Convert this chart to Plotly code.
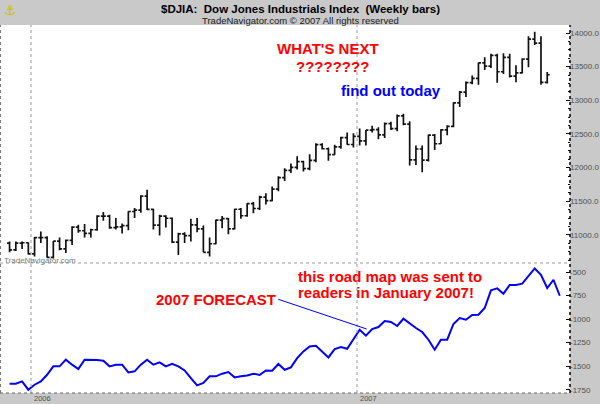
import pandas as pd
import plotly.graph_objects as go

# ---------------- data ----------------
bar_start = "2005-12-08"          # first weekly bar
n_line_points = 89                # forecast line length (weekly)

opens = [10877, 10778, 10876, 10883,
         10718, 10959, 10960, 10667, 10907, 10793, 10919, 11116, 11061, 11021,
         11076, 11279, 11280, 11109, 11120, 11137, 11347, 11367, 11577, 11380,
         11144, 11278, 11247, 10891, 11015, 10989, 11150, 11090, 10739, 10868,
         11219, 11240, 11088, 11381, 11284, 11464, 11392, 11560, 11508, 11679,
         11850, 11960, 12002, 12090, 11986, 12108, 12342, 12280, 12194, 12307,
         12445, 12343,
         12463, 12398, 12556, 12565, 12487, 12653, 12580, 12768, 12647, 12114,
         12276, 12110, 12481, 12354, 12560, 12612, 12961, 13120, 13264, 13327,
         13556, 13507, 13668, 13424, 13639, 13360, 13408, 13611, 13908, 13851,
         13265]
highs = [10900, 10900, 10900, 10890,
         10970, 11050, 10980, 10910, 10960, 10930, 11130, 11150, 11160, 11090,
         11290, 11340, 11300, 11250, 11170, 11350, 11400, 11590, 11670, 11390,
         11300, 11290, 11260, 11030, 11040, 11240, 11250, 11140, 10960, 11230,
         11280, 11250, 11390, 11400, 11470, 11490, 11580, 11620, 11720, 11870,
         11990, 12060, 12170, 12100, 12200, 12360, 12360, 12300, 12340, 12460,
         12520, 12510,
         12580, 12560, 12620, 12600, 12670, 12680, 12790, 12800, 12690, 12330,
         12330, 12490, 12500, 12570, 12630, 12970, 13140, 13280, 13370, 13560,
         13640, 13690, 13690, 13700, 13690, 13520, 13620, 13950, 14020, 13950,
         13420]
lows = [10740, 10760, 10790, 10710,
        10680, 10880, 10660, 10650, 10770, 10730, 10850, 11030, 10960, 10960,
        11060, 11210, 11090, 11080, 11020, 11070, 11250, 11330, 11370, 11080,
        10990, 11110, 10880, 10700, 10880, 10900, 11040, 10740, 10680, 10860,
        11100, 11010, 11080, 11240, 11270, 11320, 11370, 11450, 11500, 11650,
        11800, 11920, 11970, 11940, 11960, 12080, 12270, 12100, 12190, 12280,
        12340, 12300,
        12330, 12330, 12520, 12420, 12440, 12560, 12540, 12630, 12030, 12040,
        11930, 12090, 12260, 12350, 12480, 12600, 12900, 13050, 13240, 13230,
        13450, 13480, 13260, 13390, 13340, 13270, 13400, 13490, 13820, 13230,
        13250]
closes = [10778, 10876, 10883, 10718,
          10959, 10960, 10667, 10907, 10793, 10919, 11116, 11061, 11021, 11076,
          11279, 11280, 11109, 11120, 11137, 11347, 11367, 11577, 11380, 11144,
          11278, 11247, 10891, 11015, 10989, 11150, 11090, 10739, 10868, 11219,
          11240, 11088, 11381, 11284, 11464, 11392, 11560, 11508, 11679, 11850,
          11960, 12002, 12090, 11986, 12108, 12342, 12280, 12194, 12307, 12445,
          12343, 12463,
          12398, 12556, 12565, 12487, 12653, 12580, 12768, 12647, 12114, 12276,
          12110, 12481, 12354, 12560, 12612, 12961, 13120, 13264, 13327, 13556,
          13507, 13668, 13424, 13639, 13360, 13408, 13611, 13908, 13851, 13265,
          13380]

forecast = [-1686, -1686, -1662, -1750, -1697, -1662, -1591, -1502, -1502, -1431,
            -1484, -1530, -1431, -1431, -1435, -1442, -1502, -1484, -1484, -1566,
            -1555, -1484, -1431, -1484, -1460, -1502, -1474, -1502, -1545, -1626,
            -1704, -1679, -1608, -1608, -1580, -1562, -1619, -1608, -1598, -1580,
            -1594, -1545, -1548, -1477, -1538, -1513, -1414,
            -1343, -1290, -1283, -1350, -1407, -1318, -1297, -1315, -1219, -1113,
            -1176, -1106, -1084, -1020, -1031, -1073, -996, -1049, -1095, -1137,
            -1219, -1325, -1219, -1219, -1052, -989, -1007, -957, -953, -882,
            -695, -674, -730, -638, -638, -624, -547, -462, -529, -670,
            -582, -752]

price_ticks = [11000, 11500, 12000, 12500, 13000, 13500, 14000]
price_tick_text = ["11000.0", "11500.0", "12000.0", "12500.0", "13000.0", "13500.0", "14000.0"]
fc_ticks = [-500, -750, -1000, -1250, -1500, -1750]
fc_tick_text = ["-500", "-750", "-1000", "-1250", "-1500", "-1750"]
year_labels = ["2006", "2007"]
year_dates = ["2006-01-01", "2007-01-01"]

line_dates = pd.date_range(bar_start, periods=n_line_points, freq="7D")
bar_dates = line_dates[:len(closes)]

# ---------------- figure ----------------
FONT = "Liberation Sans, Arial, sans-serif"
RED = "#ff0000"
BLUE = "#0000ff"

fig = go.Figure()
fig.add_trace(go.Ohlc(
    x=bar_dates, open=opens, high=highs, low=lows, close=closes,
    increasing=dict(line=dict(color="#111111", width=1.7)),
    decreasing=dict(line=dict(color="#111111", width=1.7)),
    tickwidth=0.4, xaxis="x", yaxis="y", showlegend=False, hoverinfo="skip"))
fig.add_trace(go.Scatter(
    x=line_dates, y=forecast, mode="lines",
    line=dict(color=BLUE, width=2), xaxis="x", yaxis="y2", showlegend=False,
    hoverinfo="skip"))

split = 130 / 368

def py(p):  # pixel row -> paper y
    return (393 - p) / 368

def px(p):  # pixel col -> paper x
    return p / 570

tickfont = dict(family=FONT, size=8, color="#505050")

fig.update_layout(
    width=600, height=404,
    margin=dict(l=0, r=30, t=25, b=11),
    paper_bgcolor="#c9c9c9", plot_bgcolor="white",
    showlegend=False,
    xaxis=dict(range=["2005-11-27 07:00", "2007-08-27 12:00"], type="date",
               showticklabels=False, showgrid=False, zeroline=False,
               showline=False, ticks="", anchor="y2",
               rangeslider=dict(visible=False)),
    yaxis=dict(domain=[split, 1], range=[10582, 14119], side="right", anchor="x",
               tickmode="array", tickvals=price_ticks, ticktext=price_tick_text,
               ticks="inside", ticklen=4, tickcolor="black", tickwidth=1,
               showgrid=False, zeroline=False, showline=False,
               minor=dict(tickmode="linear", tick0=0, dtick=125, ticks="inside",
                          ticklen=2, tickcolor="black", showgrid=False),
               tickfont=tickfont, ticklabelstandoff=-1),
    yaxis2=dict(domain=[0, split], range=[-1785, -404], side="right", anchor="x",
                tickmode="array", tickvals=fc_ticks, ticktext=fc_tick_text,
                ticks="inside", ticklen=4, tickcolor="black", tickwidth=1,
                showgrid=False, zeroline=False, showline=False,
                tickfont=tickfont, ticklabelstandoff=-1),
)

shapes = []
for d in year_dates:
    shapes.append(dict(type="line", xref="x", yref="paper", x0=d, x1=d, y0=0, y1=1,
                       line=dict(color="#9a9a9a", width=1, dash="dot")))
shapes += [
    dict(type="line", xref="paper", yref="paper", x0=0, x1=1, y0=split, y1=split,
         line=dict(color="#9a9a9a", width=1, dash="dot")),
    dict(type="line", xref="paper", yref="paper", x0=1, x1=1, y0=0, y1=1,
         line=dict(color="black", width=1.5, dash="dot")),
    dict(type="line", xref="paper", yref="paper", x0=0.001, x1=0.001, y0=0, y1=1,
         line=dict(color="#777777", width=1, dash="dot")),
    dict(type="line", xref="paper", yref="paper", x0=0, x1=1, y0=0, y1=0,
         line=dict(color="#666666", width=1, dash="dot")),
    dict(type="line", xref="paper", yref="paper",
         x0=px(278.3), y0=py(299.3), x1=px(366.7), y1=py(329),
         line=dict(color=BLUE, width=1)),
]
fig.update_layout(shapes=shapes)

NB = "\u00a0"
ann = [
    dict(text="<b>$DJIA:" + NB * 2 + "Dow Jones Industrials Index" + NB * 2 + "(Weekly bars)</b>",
         x=px(300.5), y=py(9.3), xanchor="center", yanchor="middle",
         font=dict(family=FONT, size=11.5, color="black")),
    dict(text="TradeNavigator.com © 2007 All rights reserved",
         x=px(300.5), y=py(20.5), xanchor="center", yanchor="middle",
         font=dict(family=FONT, size=9.5, color="#202020")),
    dict(text="⚓", x=px(10), y=py(10), xanchor="center", yanchor="middle",
         font=dict(family="DejaVu Sans", size=14, color="#c8c400")),
    dict(text="<b>WHAT'S NEXT</b>", x=px(328.3), y=py(49), xanchor="center", yanchor="middle",
         font=dict(family=FONT, size=15, color=RED)),
    dict(text="<b>????????</b>", x=px(332.5), y=py(67), xanchor="center", yanchor="middle",
         font=dict(family=FONT, size=15, color=RED)),
    dict(text="<b>find out today</b>", x=px(391), y=py(90.5), xanchor="center", yanchor="middle",
         font=dict(family=FONT, size=15, color=BLUE)),
    dict(text="<b>this road map was sent to</b>", x=px(297), y=py(276.0), xanchor="left", yanchor="middle",
         font=dict(family=FONT, size=15, color=RED)),
    dict(text="<b>readers in January 2007!</b>", x=px(297), y=py(292.0), xanchor="left", yanchor="middle",
         font=dict(family=FONT, size=15, color=RED)),
    dict(text="<b>2007 FORECAST</b>", x=px(155), y=py(299.7), xanchor="left", yanchor="middle",
         font=dict(family=FONT, size=15, color=RED)),
    dict(text="TradeNavigator.com", x=px(2.5), y=py(260), xanchor="left", yanchor="middle",
         font=dict(family=FONT, size=8, color="#7a7a7a")),
]
for a in ann:
    a.update(xref="paper", yref="paper", showarrow=False, borderpad=0)
for lbl, d in zip(year_labels, year_dates):
    ann.append(dict(text=lbl, x=d, xref="x", y=py(398.5), yref="paper",
                    xanchor="left", yanchor="middle", xshift=1, showarrow=False,
                    font=dict(family=FONT, size=7.5, color="#505050")))
fig.update_layout(annotations=ann)

fig.write_html(
    "out.html",
    config={"displayModeBar": False},
    post_script="document.body.style.margin='0';document.body.style.padding='0';"
                "document.documentElement.style.margin='0';",
)
